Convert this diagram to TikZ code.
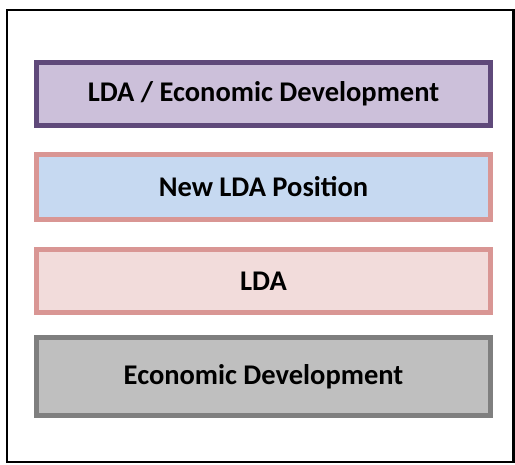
\documentclass[tikz,border=0pt]{standalone}
\usepackage{fontspec}
\setmainfont{Carlito}
\definecolor{purpfill}{HTML}{CCC0DA}
\definecolor{purpline}{HTML}{5F497A}
\definecolor{bluefill}{HTML}{C6D9F1}
\definecolor{pinkline}{HTML}{D99694}
\definecolor{pinkfill}{HTML}{F2DCDB}
\definecolor{grayfill}{HTML}{BFBFBF}
\definecolor{grayline}{HTML}{7F7F7F}
\begin{document}
\begin{tikzpicture}[x=1pt,y=-1pt,
  boxstyle/.style={line width=5pt,minimum width=454pt,inner sep=0pt,
    font=\fontsize{28.5}{32}\selectfont\bfseries,text=black}]
\useasboundingbox (0,0) rectangle (515,465);
\draw[line width=2.5pt] (7,10) rectangle (513.5,462);
\node[boxstyle,draw=purpline,fill=purpfill,minimum height=63pt] (b1) at (263.5,94) {LDA / Economic Development};
\node[boxstyle,draw=pinkline,fill=bluefill,minimum height=65pt] (b2) at (263.5,187) {New LDA Position};
\node[boxstyle,draw=pinkline,fill=pinkfill,minimum height=63pt] (b3) at (263.5,281) {LDA};
\node[boxstyle,draw=grayline,fill=grayfill,minimum height=78pt] (b4) at (263.5,376.5) {Economic Development};
\end{tikzpicture}
\end{document}
